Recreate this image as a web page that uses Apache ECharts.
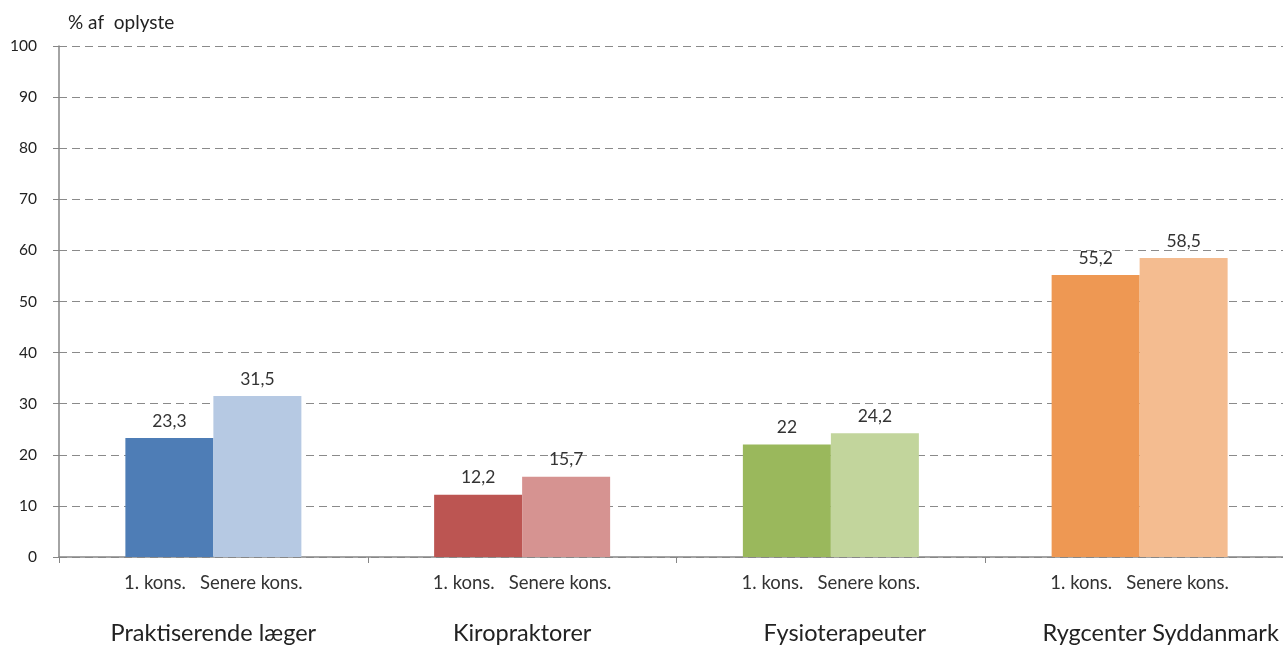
<!DOCTYPE html>
<html>
<head>
<meta charset="utf-8">
<script src="https://cdn.jsdelivr.net/npm/echarts@6/dist/echarts.min.js"></script>
<style>
html,body{margin:0;padding:0;background:#fff;overflow:hidden;width:1283px;height:645px;}
#chart{width:1300px;height:645px;}
</style>
</head>
<body>
<div id="chart"></div>
<script>
const categories = ['Praktiserende læger', 'Kiropraktorer', 'Fysioterapeuter', 'Rygcenter Syddanmark'];
const seriesNames = ['1. kons.', 'Senere kons.'];
const firstValues = [23.3, 12.2, 22, 55.2];
const laterValues = [31.5, 15.7, 24.2, 58.5];
const firstColors = ['#4E7DB6', '#BC5552', '#9AB85C', '#EE9853'];
const laterColors = ['#B6C9E3', '#D69391', '#C2D59C', '#F4BC90'];
const yTicks = [0, 10, 20, 30, 40, 50, 60, 70, 80, 90, 100];
const yName = '% af  oplyste';

const FONT = 'Lato, "Liberation Sans", sans-serif';
const fmt = v => String(v).replace('.', ',');
// horizontal nudges of the group labels (layout only)
const catLabelPad = [[0, 0, 0, 0], [0, 0, 0, 0], [0, 0, 0, 28], [0, 0, 0, 42]];

const chart = echarts.init(document.getElementById('chart'), null, {renderer: 'canvas'});

function mk(name, values, colors) {
  return {
    name: name,
    type: 'bar',
    barWidth: 88,
    barGap: '0%',
    data: values.map((v, i) => ({value: v, itemStyle: {color: colors[i]}})),
    label: {
      show: true,
      position: 'top',
      distance: 8,
      formatter: p => fmt(p.value),
      fontFamily: FONT,
      fontSize: 17.5,
      color: '#333'
    }
  };
}

const rich = {
  s: {fontFamily: FONT, fontSize: 18.5, color: '#333', lineHeight: 20},
  g: {width: 14, fontSize: 14, lineHeight: 20}
};
catLabelPad.forEach((p, i) => {
  rich['c' + i] = {fontFamily: FONT, fontSize: 23.5, color: '#222', lineHeight: 80, padding: p};
});

chart.setOption({
  animation: false,
  backgroundColor: '#fff',
  grid: {left: 59, top: 46, width: 1235, height: 513, containLabel: false},
  xAxis: {
    type: 'category',
    data: categories,
    axisLine: {lineStyle: {color: '#868686', width: 1.5}},
    axisTick: {show: true, length: 6, lineStyle: {color: '#868686'}},
    axisLabel: {
      margin: 16,
      interval: 0,
      formatter: (v, i) => '{s|' + seriesNames[0] + '}{g| }{s|' + seriesNames[1] + '}\n{c' + i + '|' + v + '}',
      rich: rich
    }
  },
  yAxis: {
    type: 'value',
    min: 0,
    max: 100,
    interval: 10,
    name: yName,
    nameLocation: 'end',
    nameGap: 14,
    nameTextStyle: {fontFamily: FONT, fontSize: 19, color: '#222', align: 'left', padding: [0, 0, 0, 9]},
    axisLine: {show: true, lineStyle: {color: '#868686', width: 1.5}},
    axisTick: {show: true, length: 6, lineStyle: {color: '#868686'}},
    axisLabel: {
      margin: 22,
      fontFamily: FONT,
      fontSize: 15.5,
      color: '#222',
      formatter: v => yTicks.includes(v) ? String(v) : ''
    },
    splitLine: {show: true, lineStyle: {color: '#8a8a8a', type: [8, 5], width: 1.2}}
  },
  series: [mk(seriesNames[0], firstValues, firstColors), mk(seriesNames[1], laterValues, laterColors)]
});
</script>
</body>
</html>
